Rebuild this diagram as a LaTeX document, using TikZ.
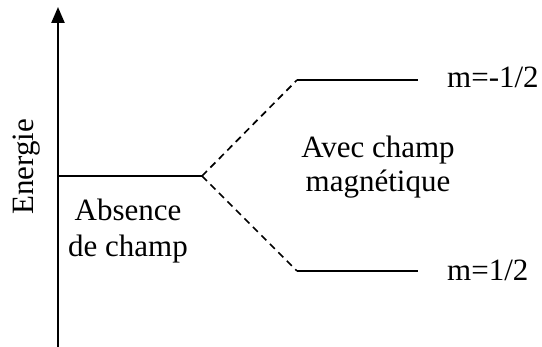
\documentclass[tikz,border=0pt]{standalone}
\usepackage{fontspec}
\setmainfont{Liberation Serif}
\usetikzlibrary{arrows.meta}
\begin{document}
\begin{tikzpicture}[x=1pt,y=-1pt,
  level/.style={line width=2pt},
  split/.style={line width=1.7pt,dash pattern=on 7pt off 5pt},
  lbl/.style={font=\fontsize{31}{36}\selectfont,inner sep=0pt}]
\useasboundingbox (0,0) rectangle (542,347);
\coordinate (ax0) at (58,347);
\coordinate (ax1) at (58,7);
\draw[line width=2.4pt,-{Triangle[length=16pt,width=13pt]}] (ax0) -- (ax1);
\coordinate (l0a) at (58,176);
\coordinate (l0b) at (202,176);
\coordinate (upa) at (297,80);
\coordinate (upb) at (418,80);
\coordinate (dna) at (297,271);
\coordinate (dnb) at (418,271);
\draw[level] (l0a) -- (l0b);
\draw[level] (upa) -- (upb);
\draw[level] (dna) -- (dnb);
\draw[split] (l0b) -- (upa);
\draw[split] (l0b) -- (dna);
\node[lbl,anchor=base west] (mup) at (447,88) {m=-1/2};
\node[lbl,anchor=base west] (mdn) at (447,281) {m=1/2};
\node[lbl,anchor=base] (avec1) at (378,158) {Avec champ};
\node[lbl,anchor=base] (avec2) at (378,192) {magnétique};
\node[lbl,anchor=base] (abs1) at (128,221) {Absence};
\node[lbl,anchor=base] (abs2) at (128,257) {de champ};
\node[lbl,rotate=90,anchor=base] (en) at (34,167) {Energie};
\end{tikzpicture}
\end{document}
